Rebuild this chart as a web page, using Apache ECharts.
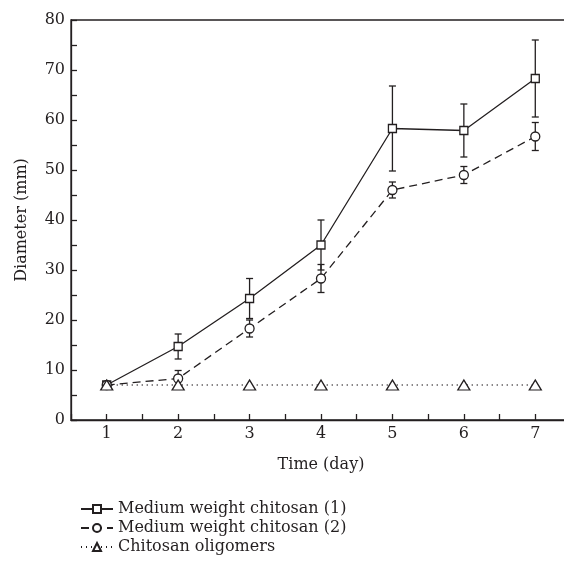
<!DOCTYPE html>
<html><head><meta charset="utf-8">
<script src="https://cdn.jsdelivr.net/npm/echarts@6/dist/echarts.min.js"></script>
<style>html,body{margin:0;padding:0;background:#fff}#c{width:564px;height:579px}</style>
</head><body><div id="c"></div>
<script>
var days = [1, 2, 3, 4, 5, 6, 7];
var mw1 = [7.0, 14.7, 24.3, 35.0, 58.3, 57.9, 68.3];
var mw1Err = [0, 2.5, 4.0, 5.0, 8.5, 5.3, 7.7];
var mw2 = [7.0, 8.3, 18.3, 28.3, 46.0, 49.0, 56.7];
var mw2Err = [0, 1.6, 1.7, 2.8, 1.6, 1.7, 2.8];
var olig = [7.0, 7.0, 7.0, 7.0, 7.0, 7.0, 7.0];
var names = ['Medium weight chitosan (1)', 'Medium weight chitosan (2)', 'Chitosan oligomers'];

var FONT = 'DejaVu Serif';
var INK = '#231f20';
function pts(v){ return days.map(function(d,i){ return [d, v[i]]; }); }
function errs(v,e){ return days.map(function(d,i){ return [d, v[i]-e[i], v[i]+e[i]]; }).filter(function(r,i){return e[i]>0;}); }
function errSeries(data){
  return {
    type:'custom', z:1, silent:true, data:data, encode:{x:0,y:[1,2]},
    renderItem:function(params, api){
      var x = api.value(0), lo = api.coord([x, api.value(1)]), hi = api.coord([x, api.value(2)]);
      var w = 3.5, st = {stroke:INK, lineWidth:1.3, fill:null};
      return {type:'group', children:[
        {type:'line', shape:{x1:lo[0],y1:lo[1],x2:hi[0],y2:hi[1]}, style:st},
        {type:'line', shape:{x1:lo[0]-w,y1:lo[1],x2:lo[0]+w,y2:lo[1]}, style:st},
        {type:'line', shape:{x1:hi[0]-w,y1:hi[1],x2:hi[0]+w,y2:hi[1]}, style:st}
      ]};
    }
  };
}
var chart = echarts.init(document.getElementById('c'), null, {renderer:'canvas'});
chart.setOption({
  animation:false,
  backgroundColor:'#fff',
  textStyle:{fontFamily:FONT, color:INK},
  grid:{left:71, top:20, width:500, height:400, outerBoundsMode:'none', containLabel:false,
    show:true, borderColor:INK, borderWidth:1.3, backgroundColor:'transparent'},
  xAxis:{type:'value', min:0.5, max:7.5, interval:0.5,
    name:'Time (day)', nameLocation:'middle', nameGap:37,
    nameTextStyle:{fontFamily:FONT, fontSize:16, color:INK},
    axisLine:{lineStyle:{color:INK, width:1.3}},
    axisTick:{inside:true, length:6, lineStyle:{color:INK, width:1.3}},
    axisLabel:{fontFamily:FONT, fontSize:16, color:INK, margin:6,
      formatter:function(v){ return (Math.abs(v-Math.round(v))<1e-6 && v>=1 && v<=7) ? String(Math.round(v)) : ''; }},
    splitLine:{show:false}},
  yAxis:{type:'value', min:0, max:80, interval:10,
    name:'Diameter (mm)', nameLocation:'middle', nameGap:41, nameRotate:90,
    nameTextStyle:{fontFamily:FONT, fontSize:16, color:INK},
    axisLine:{show:true, lineStyle:{color:INK, width:1.3}},
    axisTick:{inside:true, length:6, lineStyle:{color:INK, width:1.3}},
    minorTick:{show:true, splitNumber:2, length:6, lineStyle:{color:INK, width:1.3}},
    axisLabel:{fontFamily:FONT, fontSize:16, color:INK, margin:6},
    splitLine:{show:false}},
  legend:{orient:'vertical', left:75, top:496, itemGap:3, itemWidth:32, itemHeight:10,
    textStyle:{fontFamily:FONT, fontSize:16, color:INK},
    data:names.map(function(n){return {name:n};})},
  series:[
    errSeries(errs(mw1, mw1Err)),
    errSeries(errs(mw2, mw2Err)),
    {name:names[0], type:'line', z:3, data:pts(mw1), symbol:'rect', symbolSize:8,
      itemStyle:{color:'#fff', borderColor:INK, borderWidth:1.3},
      lineStyle:{color:INK, width:1.3, type:'solid'}},
    {name:names[1], type:'line', z:3, data:pts(mw2), symbol:'circle', symbolSize:9,
      itemStyle:{color:'#fff', borderColor:INK, borderWidth:1.3},
      lineStyle:{color:INK, width:1.3, type:[8,5]}},
    {name:names[2], type:'line', z:3, data:pts(olig), symbol:'triangle', symbolSize:[12,10],
      itemStyle:{color:'#fff', borderColor:INK, borderWidth:1.3},
      lineStyle:{color:INK, width:1.3, type:[1,4]}}
  ]
});
</script></body></html>
